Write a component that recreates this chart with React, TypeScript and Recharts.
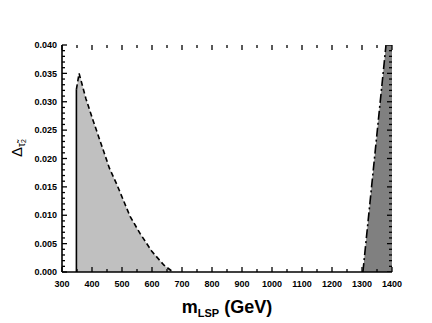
import React from 'react';
import { ComposedChart, Area, Line, XAxis, YAxis } from 'recharts';

// Light region: Δ(τ̃2) vs m_LSP (GeV)
const lightMass = [348, 357, 380, 403, 438, 458, 483, 527, 560, 600, 640, 670];
const lightDelta = [0.0322, 0.035, 0.0305, 0.0268, 0.0214, 0.0183, 0.0154, 0.0098, 0.0068, 0.0036, 0.0012, 0];

// Vertical solid edge of light region
const edgeMass = [348, 348];
const edgeDelta = [0, 0.0322];

// Dark region
const darkMass = [1303, 1380, 1400];
const darkDelta = [0, 0.04, 0.04];

// Axes
const xMajor = [300, 400, 500, 600, 700, 800, 900, 1000, 1100, 1200, 1300, 1400];
const xMinor = [350, 450, 550, 650, 750, 850, 950, 1050, 1150, 1250, 1350];
const yMajorLabels = ['0.000', '0.005', '0.010', '0.015', '0.020', '0.025', '0.030', '0.035', '0.040'];
const X_MAX = 1400;

const yMajor = yMajorLabels.map((s) => parseFloat(s));
const yAllTicks: number[] = [];
for (let k = 0; k <= 40; k++) yAllTicks.push(k / 1000);
const xAllTicks = [...xMajor, ...xMinor].sort((a, b) => a - b);

const lightData = lightMass.map((m, i) => ({ m, d: lightDelta[i] }));
const edgeData = edgeMass.map((m, i) => ({ m, d: edgeDelta[i] }));
const darkData = darkMass.map((m, i) => ({ m, d: darkDelta[i] }));
const darkLineData = darkData.slice(0, 2);
const rightTickData = yAllTicks.map((d) => ({ m: X_MAX, d }));

const FONT = 'Liberation Sans, Arial, Helvetica, sans-serif';
const MARGIN = 10;

// chart layout
const W = 432;
const H = 323;
const M_TOP = 45;
const M_RIGHT = 40;
const PLOT_TOP = M_TOP;

const isMajor = (list: number[], v: number) => list.some((m) => Math.abs(m - v) < 1e-9);

const BottomTick = (props: any) => {
  const { x, y, payload } = props;
  const v = payload.value;
  const major = isMajor(xMajor, v);
  const len = major ? 5 : 3;
  const ay = y - MARGIN;
  return (
    <g>
      <line x1={x} y1={ay} x2={x} y2={ay - len} stroke="#000" strokeWidth={1.3} />
      <line x1={x} y1={PLOT_TOP} x2={x} y2={PLOT_TOP + len} stroke="#000" strokeWidth={1.3} />
      {major && (
        <text x={x} y={ay + 14.5} textAnchor="middle" fontSize={9} fontWeight="bold" fontFamily={FONT} fill="#000">
          {v}
        </text>
      )}
    </g>
  );
};

const LeftTick = (props: any) => {
  const { x, y, payload } = props;
  const v = payload.value;
  const major = isMajor(yMajor, v);
  const len = major ? 5 : 3;
  const ax = x + MARGIN;
  return (
    <g>
      <line x1={ax} y1={y} x2={ax + len} y2={y} stroke="#000" strokeWidth={1.3} />
      {major && (
        <text x={ax - 5} y={y + 3.2} textAnchor="end" fontSize={9} fontWeight="bold" fontFamily={FONT} fill="#000">
          {v.toFixed(3)}
        </text>
      )}
    </g>
  );
};

const RightTick = (props: any) => {
  const { cx, cy, payload } = props;
  if (cx == null || cy == null) return <g />;
  const major = isMajor(yMajor, payload.d);
  const len = major ? 5 : 3;
  return <line x1={cx} y1={cy} x2={cx - len} y2={cy} stroke="#000" strokeWidth={1.3} />;
};

const XLabel = (props: any) => {
  const vb = props.viewBox || { x: 62, y: 272, width: 330, height: 51 };
  const cx = vb.x + vb.width / 2;
  return (
    <text x={cx} y={vb.y + 41} textAnchor="middle" fontFamily={FONT} fontWeight="bold" fill="#000" fontSize={18}>
      m
      <tspan fontSize={11} dy={4}>LSP</tspan>
      <tspan fontSize={18} dy={-4}> (GeV)</tspan>
    </text>
  );
};

const YLabel = (props: any) => {
  const vb = props.viewBox || { x: 0, y: 45, width: 62, height: 227 };
  const cx = vb.x + 22;
  const cy = vb.y + 103;
  return (
    <text
      x={cx}
      y={cy}
      textAnchor="middle"
      transform={`rotate(-90, ${cx}, ${cy})`}
      fontFamily={FONT}
      fill="#000"
      fontSize={15}
    >
      Δ
      <tspan fontSize={10} dy={3}>{'τ\u0303'}</tspan>
      <tspan fontSize={7} dy={1}>2</tspan>
    </text>
  );
};

export default function App() {
  return (
    <div style={{ position: 'absolute', left: 0, top: 0, background: '#fff' }}>
      <ComposedChart width={W} height={H} margin={{ top: M_TOP, right: M_RIGHT, bottom: 0, left: 0 }}>
        <XAxis
          xAxisId="b"
          type="number"
          dataKey="m"
          domain={[300, 1400]}
          allowDataOverflow
          ticks={xAllTicks}
          interval={0}
          height={51}
          tickSize={0}
          tickMargin={MARGIN}
          tickLine={false}
          axisLine={{ stroke: '#000', strokeWidth: 1.6 }}
          tick={<BottomTick />}
          label={<XLabel />}
        />
        <XAxis
          xAxisId="t"
          orientation="top"
          type="number"
          dataKey="m"
          domain={[300, 1400]}
          allowDataOverflow
          height={0}
          tick={false}
          tickLine={false}
          axisLine={{ stroke: '#000', strokeWidth: 1.6 }}
        />
        <YAxis
          yAxisId="l"
          type="number"
          dataKey="d"
          domain={[0, 0.04]}
          allowDataOverflow
          ticks={yAllTicks}
          interval={0}
          width={62}
          tickSize={0}
          tickMargin={MARGIN}
          tickLine={false}
          axisLine={{ stroke: '#000', strokeWidth: 1.6 }}
          tick={<LeftTick />}
          label={<YLabel />}
        />
        <YAxis
          yAxisId="r"
          orientation="right"
          type="number"
          dataKey="d"
          domain={[0, 0.04]}
          allowDataOverflow
          width={0}
          tick={false}
          tickLine={false}
          axisLine={{ stroke: '#000', strokeWidth: 1.6 }}
        />
        <Area
          xAxisId="b"
          yAxisId="l"
          data={lightData}
          dataKey="d"
          type="linear"
          fill="#c0c0c0"
          fillOpacity={1}
          stroke="none"
          baseValue={0}
          isAnimationActive={false}
        />
        <Area
          xAxisId="b"
          yAxisId="l"
          data={darkData}
          dataKey="d"
          type="linear"
          fill="#808080"
          fillOpacity={1}
          stroke="none"
          baseValue={0}
          isAnimationActive={false}
        />
        <Line
          xAxisId="b"
          yAxisId="l"
          data={lightData}
          dataKey="d"
          type="linear"
          stroke="#000"
          strokeWidth={1.6}
          strokeDasharray="5 3"
          dot={false}
          isAnimationActive={false}
        />
        <Line
          xAxisId="b"
          yAxisId="l"
          data={edgeData}
          dataKey="d"
          type="linear"
          stroke="#000"
          strokeWidth={1.6}
          dot={false}
          isAnimationActive={false}
        />
        <Line
          xAxisId="b"
          yAxisId="l"
          data={darkLineData}
          dataKey="d"
          type="linear"
          stroke="#000"
          strokeWidth={1.6}
          strokeDasharray="9 3 2 3"
          dot={false}
          isAnimationActive={false}
        />
        <Line
          xAxisId="t"
          yAxisId="r"
          data={rightTickData}
          dataKey="d"
          type="linear"
          stroke="none"
          dot={<RightTick />}
          legendType="none"
          isAnimationActive={false}
        />
      </ComposedChart>
    </div>
  );
}
